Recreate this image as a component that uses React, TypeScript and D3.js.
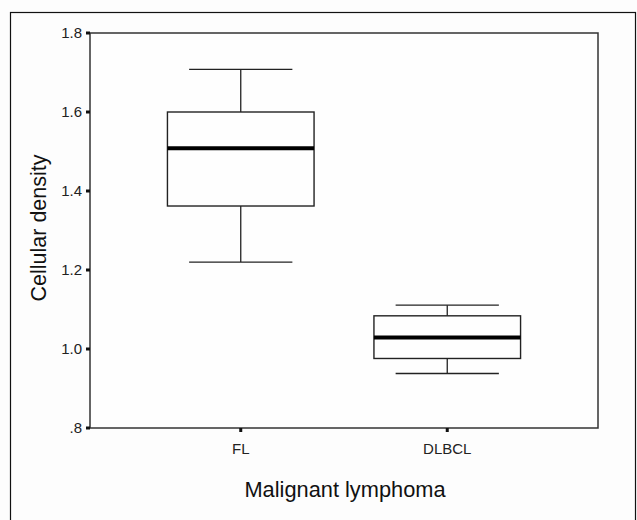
import React, { useEffect, useRef } from "react";
import * as d3 from "d3";

const groups = ["FL", "DLBCL"];
const whiskerLow = [1.22, 0.938];
const q1 = [1.362, 0.976];
const median = [1.508, 1.029];
const q3 = [1.6, 1.084];
const whiskerHigh = [1.708, 1.111];
const yTicks = [0.8, 1.0, 1.2, 1.4, 1.6, 1.8];

const fmt = (v: number) => (v < 1 ? d3.format(".1f")(v).replace(/^0/, "") : d3.format(".1f")(v));

function BoxPlot() {
  const ref = useRef<SVGSVGElement | null>(null);

  useEffect(() => {
    const W = 637;
    const H = 520;
    const margin = { top: 33, right: 39, bottom: 92, left: 90 };
    const width = W - margin.left - margin.right;
    const height = H - margin.top - margin.bottom;

    const root = d3.select(ref.current);
    root.selectAll("*").remove();
    root.attr("width", W).attr("height", H);

    root.append("rect").attr("width", W).attr("height", H).attr("fill", "#fdfdfd");
    // outer frame
    root
      .append("rect")
      .attr("x", 10.5)
      .attr("y", 12.5)
      .attr("width", 625)
      .attr("height", 600)
      .attr("fill", "none")
      .attr("stroke", "#111")
      .attr("stroke-width", 1.2);

    const g = root.append("g").attr("transform", `translate(${margin.left},${margin.top})`);

    const x = d3.scalePoint<string>().domain(groups).range([0, width]).padding(0.73);
    const step = x.step();
    const y = d3.scaleLinear().domain([0.8, 1.8]).range([height, 0]);

    // plot frame
    g.append("rect")
      .attr("width", width)
      .attr("height", height)
      .attr("fill", "#fefefe")
      .attr("stroke", "#333")
      .attr("stroke-width", 1.5);

    // y ticks
    const yAxis = g.append("g");
    yTicks.forEach((t) => {
      yAxis
        .append("rect")
        .attr("x", -4)
        .attr("y", y(t) - 1.5)
        .attr("width", 4)
        .attr("height", 3)
        .attr("fill", "#111");
      yAxis
        .append("text")
        .attr("x", -8)
        .attr("y", y(t))
        .attr("dy", "0.35em")
        .attr("text-anchor", "end")
        .attr("font-family", "Liberation Sans, Arial, sans-serif")
        .attr("font-size", 15)
        .attr("fill", "#222")
        .text(fmt(t));
    });

    // x ticks
    groups.forEach((grp) => {
      g.append("rect")
        .attr("x", x(grp)! - 1.5)
        .attr("y", height)
        .attr("width", 3)
        .attr("height", 4)
        .attr("fill", "#111");
      g.append("text")
        .attr("x", x(grp)!)
        .attr("y", height + 21)
        .attr("dy", "0.35em")
        .attr("text-anchor", "middle")
        .attr("font-family", "Liberation Sans, Arial, sans-serif")
        .attr("font-size", 15)
        .attr("fill", "#222")
        .text(grp);
    });

    // boxes
    const boxW = step * 0.71;
    const capW = step * 0.5;
    groups.forEach((grp, i) => {
      const cx = x(grp)!;
      const bg = g.append("g").attr("stroke", "#222").attr("fill", "none");
      bg.append("line")
        .attr("x1", cx).attr("x2", cx)
        .attr("y1", y(whiskerHigh[i])).attr("y2", y(q3[i]))
        .attr("stroke-width", 1.3);
      bg.append("line")
        .attr("x1", cx).attr("x2", cx)
        .attr("y1", y(q1[i])).attr("y2", y(whiskerLow[i]))
        .attr("stroke-width", 1.3);
      bg.append("line")
        .attr("x1", cx - capW / 2).attr("x2", cx + capW / 2)
        .attr("y1", y(whiskerHigh[i])).attr("y2", y(whiskerHigh[i]))
        .attr("stroke-width", 1.3);
      bg.append("line")
        .attr("x1", cx - capW / 2).attr("x2", cx + capW / 2)
        .attr("y1", y(whiskerLow[i])).attr("y2", y(whiskerLow[i]))
        .attr("stroke-width", 1.3);
      bg.append("rect")
        .attr("x", cx - boxW / 2)
        .attr("y", y(q3[i]))
        .attr("width", boxW)
        .attr("height", y(q1[i]) - y(q3[i]))
        .attr("stroke-width", 1.4);
      bg.append("line")
        .attr("x1", cx - boxW / 2).attr("x2", cx + boxW / 2)
        .attr("y1", y(median[i])).attr("y2", y(median[i]))
        .attr("stroke", "#000")
        .attr("stroke-width", 4);
    });

    // axis titles
    root
      .append("text")
      .attr("x", 345)
      .attr("y", 497)
      .attr("text-anchor", "middle")
      .attr("font-family", "Liberation Sans, Arial, sans-serif")
      .attr("font-size", 21.8)
      .attr("fill", "#111")
      .text("Malignant lymphoma");

    root
      .append("text")
      .attr("transform", `translate(46,228) rotate(-90)`)
      .attr("text-anchor", "middle")
      .attr("font-family", "Liberation Sans, Arial, sans-serif")
      .attr("font-size", 21.5)
      .attr("fill", "#111")
      .text("Cellular density");
  }, []);

  return <svg ref={ref} style={{ position: "absolute", left: 0, top: 0 }} />;
}

export default function App() {
  return <BoxPlot />;
}
